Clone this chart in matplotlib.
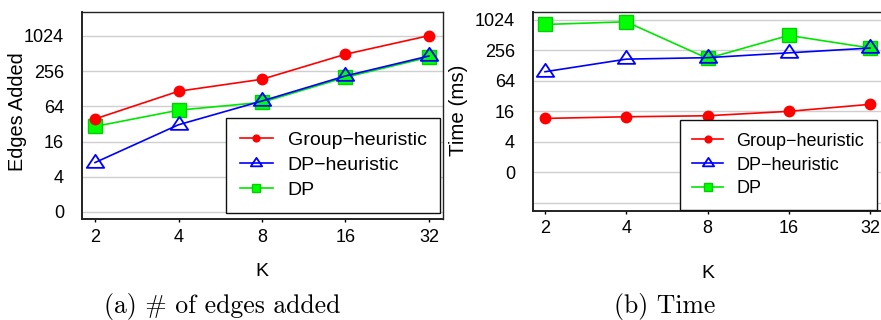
import matplotlib
matplotlib.use("Agg")
import matplotlib.pyplot as plt
from matplotlib.path import Path
import numpy as np

K = [2, 4, 8, 16, 32]
k_labels = ["2", "4", "8", "16", "32"]
y_ticks = [1, 4, 16, 64, 256, 1024]
y_ticklabels = ["0", "4", "16", "64", "256", "1024"]

# (a) edges added
edges_group = [39, 116, 186, 498, 1036]
edges_dph = [7, 31, 79, 212, 465]
edges_dp = [29, 55, 75, 201, 443]

# (b) time (ms)
time_group = [11.6, 12.5, 13.1, 16, 22]
time_dph = [97, 172, 184, 229, 285]
time_dp = [833, 940, 178, 506, 286]

series_names = ["Group\u2212heuristic", "DP\u2212heuristic", "DP"]

plt.rcParams['font.family'] = ['Liberation Sans', 'DejaVu Sans']

W, H = 881, 320
fig = plt.figure(figsize=(W / 100, H / 100), dpi=100)

tri = Path([(-1, -0.5), (1, -0.5), (0, 1.0), (-1, -0.5)],
           [Path.MOVETO, Path.LINETO, Path.LINETO, Path.CLOSEPOLY])


def px(x0, y0, x1, y1):
    return [x0 / W, 1 - y1 / H, (x1 - x0) / W, (y1 - y0) / H]


def draw(ax, g, dph, dp, ylim, xlim, extra_grid, leg_anchor, leg_fs, lspace):
    ax.set_xscale('log', base=2)
    ax.set_yscale('log', base=2)
    ax.set_xlim(2 ** xlim[0], 2 ** xlim[1])
    ax.set_ylim(2 ** ylim[0], 2 ** ylim[1])
    for v in extra_grid:
        ax.axhline(v, color='#cfcfcf', lw=1.0, zorder=0)
    ax.set_yticks(y_ticks)
    ax.set_yticklabels(y_ticklabels)
    ax.minorticks_off()
    ax.set_xticks(K)
    ax.set_xticklabels(k_labels)
    ax.grid(axis='y', color='#cfcfcf', lw=1.0, zorder=0)
    ax.set_axisbelow(True)
    ax.tick_params(axis='y', length=0, pad=13, labelsize=13)
    ax.tick_params(axis='x', length=2, width=1, pad=5, labelsize=13)
    for s in ax.spines.values():
        s.set_linewidth(1.0)
        s.set_color('#222222')
    ax.spines['bottom'].set_linewidth(1.4)
    ax.spines['left'].set_linewidth(1.4)
    l1, = ax.plot(K, g, color='#ff0000', lw=1.2, marker='o', ms=7.5,
                  label=series_names[0], zorder=4)
    l3, = ax.plot(K, dp, color='#00e600', lw=1.2, marker='s', ms=9.5,
                  mfc='#00ff00', mec='#00d000', label=series_names[2], zorder=3)
    l2, = ax.plot(K, dph, color='#0000ff', lw=1.2, marker=tri, ms=12.5,
                  mfc='none', mec='#0000ff', mew=1.3, label=series_names[1], zorder=5)
    leg = ax.legend([l1, l2, l3], series_names, loc='lower right',
                    bbox_to_anchor=leg_anchor, bbox_transform=fig.transFigure,
                    fontsize=leg_fs, frameon=True, fancybox=False,
                    edgecolor='#111111', framealpha=1, borderpad=0.7,
                    handlelength=1.7, handletextpad=0.75, labelspacing=lspace,
                    markerscale=0.65, borderaxespad=0)
    leg.get_frame().set_linewidth(1.0)
    return ax


ax1 = fig.add_axes(px(82, 12, 443, 219))
draw(ax1, edges_group, edges_dph, edges_dp, (-0.40, 11.36), (0.844, 5.168),
     [], (440 / W, 1 - 212.7 / H), 14, 0.38)

ax2 = fig.add_axes(px(533, 12, 883, 210.7))
draw(ax2, time_group, time_dph, time_dp, (-2.52, 10.52), (0.852, 5.16),
     [0.25], (877 / W, 1 - 210 / H), 13, 0.38)

fig.text(18 / W, 1 - 112 / H, "Edges Added", rotation=90, ha='center',
         va='center', fontsize=14.3)
fig.text(459 / W, 1 - 110 / H, "Time (ms)", rotation=90, ha='center',
         va='center', fontsize=14.8)
fig.text(262 / W, 1 - 272 / H, "K", ha='center', va='center', fontsize=14)
fig.text(708 / W, 1 - 273 / H, "K", ha='center', va='center', fontsize=14)

fig.text(222 / W, 1 - 306 / H, "(a) # of edges added", ha='center',
         va='center', fontsize=18.5, family='cmr10')
fig.text(665 / W, 1 - 306 / H, "(b) Time", ha='center', va='center',
         fontsize=18.5, family='cmr10')

fig.savefig("out.png", dpi=100)
